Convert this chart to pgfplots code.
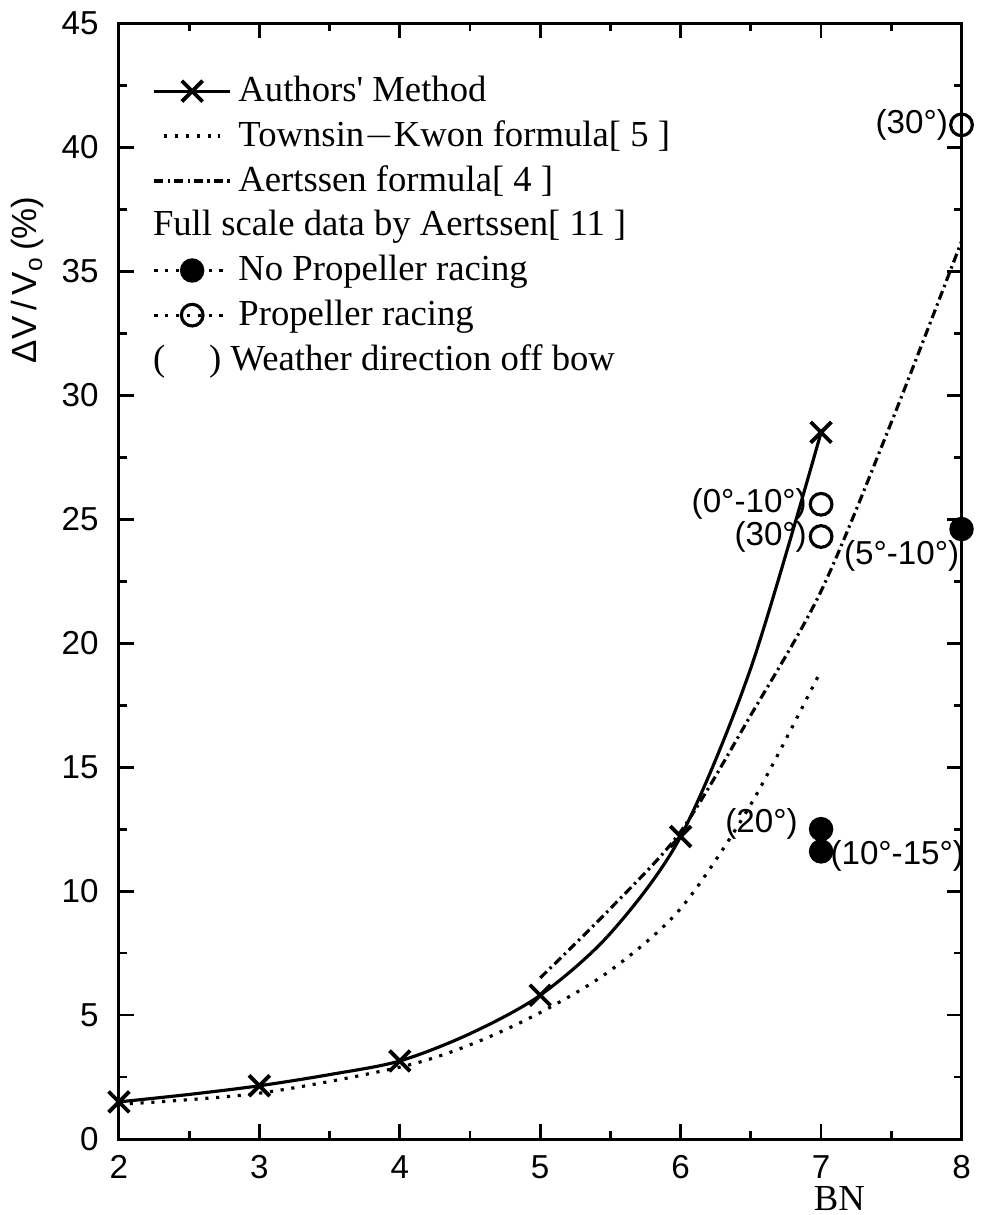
\documentclass[border=0pt]{standalone}
\usepackage{pgfplots}
\pgfplotsset{compat=1.18}
\usepackage{fontspec}
\setmainfont{Liberation Sans}
\newfontfamily\legfont{Liberation Serif}

\begin{document}
\begin{tikzpicture}
\begin{axis}[
  scale only axis,
  width=84.8mm, height=112.3mm,
  xmin=2, xmax=8, ymin=0, ymax=45,
  xtick={2,3,...,8}, ytick={0,5,...,45},
  minor xtick={2.5,3.5,...,7.5},
  minor ytick={2.5,7.5,...,42.5},
  tick align=inside, tick pos=both,
  xticklabel pos=bottom, yticklabel pos=left,
  major tick length=1.5mm, minor tick length=0.8mm,
  axis line style={line width=0.9pt},
  every tick/.style={black, line width=0.8pt},
  tick label style={font=\fontsize{9.5}{11}\selectfont},
  xticklabel style={yshift=-0.4mm},
  yticklabel style={xshift=-0.8mm},
  /pgf/number format/assume math mode=true,
  xlabel={\legfont BN},
  xlabel style={at={(rel axis cs:0.855,0)}, anchor=north, yshift=-4.3mm, inner sep=1.2pt, font=\fontsize{10.5}{12}\selectfont},
  ylabel={ΔV\,/\,V\textsubscript{o}\,(\%)},
  ylabel style={at={(rel axis cs:-0.108,0.77)}, anchor=center, font=\fontsize{10}{12}\selectfont},
  clip=false,
  legend style={at={(rel axis cs:0.027,0.966)}, anchor=north west, draw=none, fill=none,
    font=\legfont\fontsize{10.5}{12}\selectfont, row sep=0pt},
  legend cell align=left,
]
% Authors' Method
\addplot[black, line width=0.9pt, smooth, mark=x, mark size=4.2pt,
  mark options={line width=1.1pt},
  mark indices={1,3,5,7,9,11},
  legend image code/.code={\draw[mark=none] (0cm,0cm) -- (0.76cm,0cm);
    \draw[mark=x, mark size=4.2pt, mark options={line width=1.1pt}] plot coordinates {(0.38cm,0cm)};}]
coordinates {
  (2,1.5) (2.5,1.8) (3,2.15) (3.5,2.6) (4,3.15) (4.5,4.25) (5,5.8) (5.5,8.3) (6,12.2) (6.5,19.0) (7,28.5)
};
\addlegendentry{Authors' Method}
% Townsin-Kwon
\addplot[black, line width=0.9pt, smooth, dash pattern=on 0.9pt off 2.2pt,
  legend image code/.code={\draw[mark=none] (0.1cm,0cm) -- (0.66cm,0cm);}]
coordinates {
  (2,1.4) (3,1.85) (4,2.9) (4.5,3.8) (5,5.1) (5.5,6.8) (6,9.3) (6.5,13.5) (7,18.9)
};
\addlegendentry{Townsin$-$Kwon formula[ 5 ]}
% Aertssen
\addplot[black, line width=0.9pt, smooth, dash pattern=on 2.6pt off 1.2pt on 0.7pt off 1.2pt,
  legend image code/.code={\draw[mark=none] (0cm,0cm) -- (0.76cm,0cm);}]
coordinates {
  (5,6.5) (5.5,9.3) (6,12.4) (6.5,17.1) (7,22.1) (7.5,28.9) (8,36.2)
};
\addlegendentry{Aertssen formula[ 4 ]}
\addlegendimage{empty legend}
\addlegendentry{\hspace*{-8.6mm}Full scale data by Aertssen[ 11 ]}
% Full scale, no propeller racing
\addplot[only marks, mark=*, mark size=3.3pt, black,
  legend image code/.code={\draw[mark=none, line width=0.9pt, dash pattern=on 0.9pt off 2.2pt] (0cm,0cm) -- (0.76cm,0cm);
    \draw[mark=*, mark size=3.3pt] plot coordinates {(0.38cm,0cm)};}]
coordinates { (8,24.6) (7,12.5) (7,11.6) };
\addlegendentry{No Propeller racing}
% Full scale, propeller racing
\addplot[only marks, mark=o, mark size=3.1pt, black, line width=0.9pt,
  mark options={fill=white},
  legend image code/.code={\draw[mark=none, line width=0.9pt, dash pattern=on 0.9pt off 2.2pt] (0cm,0cm) -- (0.76cm,0cm);
    \draw[mark=o, mark size=3.1pt, mark options={fill=white}] plot coordinates {(0.38cm,0cm)};}]
coordinates { (8,40.9) (7,25.6) (7,24.3) };
\addlegendentry{Propeller racing}
\addlegendimage{empty legend}
\addlegendentry{\hspace*{-8.6mm}(\hspace{1.2em}) Weather direction off bow}

\begin{scope}[every node/.style={font=\fontsize{9.5}{11}\selectfont, inner sep=0.5pt}]
\node[anchor=east] at (axis cs:8,40.9) [xshift=-3.2pt] {(30°)};
\node[anchor=east] at (axis cs:7,25.6) [xshift=-3.4pt] {(0°-10°)};
\node[anchor=east] at (axis cs:7,24.3) [xshift=-3.4pt] {(30°)};
\node[anchor=east] at (axis cs:8,23.5) [xshift=0pt] {(5°-10°)};
\node[anchor=east] at (axis cs:7,12.7) [xshift=-6pt] {(20°)};
\node[anchor=west] at (axis cs:7,11.4) [xshift=2pt] {(10°-15°)};
\end{scope}
\end{axis}
\end{tikzpicture}
\end{document}
